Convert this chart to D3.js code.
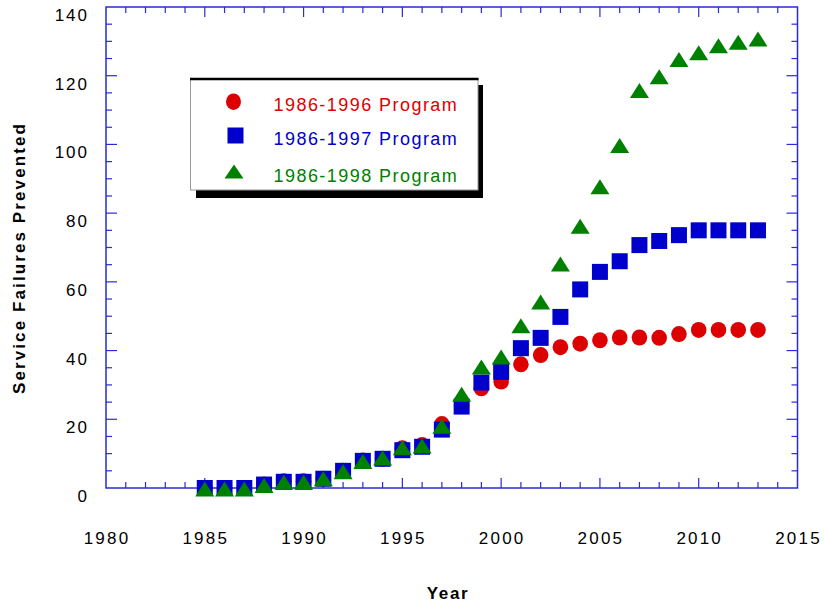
<!DOCTYPE html>
<html><head><meta charset="utf-8">
<script src="https://cdn.jsdelivr.net/npm/d3@7"></script>
<style>body{margin:0;background:#fff}svg{display:block}text{font-family:"Liberation Sans",Arial,sans-serif}</style>
</head><body>
<script>
const years = [1985,1986,1987,1988,1989,1990,1991,1992,1993,1994,1995,1996,1997,1998,1999,2000,2001,2002,2003,2004,2005,2006,2007,2008,2009,2010,2011,2012,2013];
const prog1996 = [0,0,0,1,2,2,2.7,5,8,8.5,11.6,12.5,18.6,24,29,31,36,38.7,41,42,43,43.8,43.8,43.7,44.8,46,46,46,46];
const prog1997 = [0,0,0,1,1.8,1.8,2.7,5,7.9,8.5,11,12,17,23.7,30.7,33.8,40.7,43.7,49.8,57.8,62.9,66,70.7,71.9,73.6,75,75,75,75];
const prog1998 = [0,0,0,1,2,2,3,5,8,9,12,12.5,18.3,27.6,35.5,38.4,47.5,54.4,65.5,76.5,88,100,116,120,125,127,129,130,131];
const seriesNames = ["1986-1996 Program","1986-1997 Program","1986-1998 Program"];
const seriesColors = ["#dd0000","#0000cc","#008000"];
const xTicks = [1980,1985,1990,1995,2000,2005,2010,2015];
const yTicks = [0,20,40,60,80,100,120,140];

const W=824,H=605;
const svg=d3.select("body").append("svg").attr("width",W).attr("height",H);
const L=106,R=797.5,T=7,B=488;
const x=d3.scaleLinear().domain([1980,2015]).range([L,R]);
const y=d3.scaleLinear().domain([0,140]).range([B,T]);
const axisColor="#2a2ad8";

// frame
svg.append("rect").attr("x",L).attr("y",T).attr("width",R-L).attr("height",B-T)
  .attr("fill","none").attr("stroke",axisColor).attr("stroke-width",1.5);

// ticks
const g=svg.append("g").attr("stroke",axisColor).attr("stroke-width",1.2);
d3.range(1980,2016,1).forEach(v=>{
  const major=v%5===0, len=major?10:6;
  if(v===1980||v===2015) return;
  g.append("line").attr("x1",x(v)).attr("x2",x(v)).attr("y1",B).attr("y2",B-len);
  g.append("line").attr("x1",x(v)).attr("x2",x(v)).attr("y1",T).attr("y2",T+len);
});
d3.range(0,141,5).forEach(v=>{
  const major=v%20===0, len=major?11:6;
  if(v===0||v===140) return;
  g.append("line").attr("x1",L).attr("x2",L+len).attr("y1",y(v)).attr("y2",y(v));
  g.append("line").attr("x1",R).attr("x2",R-len).attr("y1",y(v)).attr("y2",y(v));
});

// tick labels
svg.append("g").selectAll("text").data(xTicks).join("text")
  .attr("x",d=>x(d)+1).attr("y",544).attr("text-anchor","middle")
  .attr("font-size",17).attr("letter-spacing",2.2).attr("fill","#000").text(d=>d);
svg.append("g").selectAll("text").data(yTicks).join("text")
  .attr("x",89).attr("y",d=>y(d)+14).attr("text-anchor","end")
  .attr("font-size",17).attr("letter-spacing",2).attr("fill","#000").text(d=>d);

// axis titles
svg.append("text").attr("x",448).attr("y",599).attr("text-anchor","middle")
  .attr("font-size",17).attr("font-weight","bold").attr("letter-spacing",1.7).text("Year");
svg.append("text").attr("transform","translate(25,258) rotate(-90)").attr("text-anchor","middle")
  .attr("font-size",17).attr("font-weight","bold").attr("letter-spacing",2.1).text("Service Failures Prevented");

// markers
const tri=(cx,cy,w,h)=>`M${cx-w/2},${cy+h/2}L${cx},${cy-h/2}L${cx+w/2},${cy+h/2}Z`;
svg.append("g").selectAll("ellipse").data(years.map((yr,i)=>[yr,prog1996[i]])).join("ellipse")
  .attr("cx",d=>x(d[0])).attr("cy",d=>y(d[1])).attr("rx",7.8).attr("ry",8).attr("fill",seriesColors[0]);
svg.append("g").selectAll("rect").data(years.map((yr,i)=>[yr,prog1997[i]])).join("rect")
  .attr("x",d=>x(d[0])-8).attr("y",d=>y(d[1])-8).attr("width",16).attr("height",16).attr("fill",seriesColors[1]);
svg.append("g").selectAll("path").data(years.map((yr,i)=>[yr,prog1998[i]])).join("path")
  .attr("d",d=>tri(x(d[0]),y(d[1])+1,19,15)).attr("fill",seriesColors[2]);

// legend
const lg=svg.append("g");
lg.append("rect").attr("x",196).attr("y",85).attr("width",287).attr("height",113).attr("fill","#000");
lg.append("rect").attr("x",190.5).attr("y",78.5).attr("width",287.5).attr("height",111.5).attr("fill","#fff").attr("stroke","#999").attr("stroke-width",1);
lg.append("line").attr("x1",190).attr("x2",478.5).attr("y1",79).attr("y2",79).attr("stroke","#000").attr("stroke-width",2.5);
lg.append("ellipse").attr("cx",233.5).attr("cy",101.7).attr("rx",7.5).attr("ry",8.3).attr("fill",seriesColors[0]);
lg.append("rect").attr("x",227.5).attr("y",127.5).attr("width",16).attr("height",16).attr("fill",seriesColors[1]);
lg.append("path").attr("d",tri(234,171.5,19,14)).attr("fill",seriesColors[2]);
const ly=[110.5,145,182.3];
seriesNames.forEach((n,i)=>{
  lg.append("text").attr("x",273.5).attr("y",ly[i]).attr("font-size",18).attr("letter-spacing",1.45)
    .attr("fill",seriesColors[i]).text(n);
});
</script>
</body></html>
